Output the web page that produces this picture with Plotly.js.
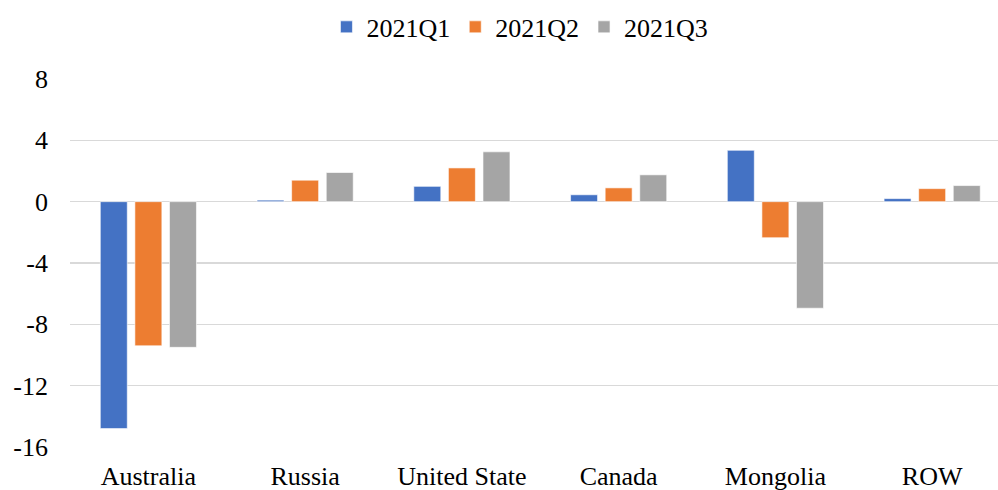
<!DOCTYPE html>
<html>
<head>
<meta charset="utf-8">
<script src="https://cdn.plot.ly/plotly-3.0.1.min.js"></script>
<style>html,body{margin:0;padding:0;background:#fff;}#chart{width:998px;height:490px;}</style>
</head>
<body>
<div id="chart"></div>
<script>
const categories = ["Australia", "Russia", "United State", "Canada", "Mongolia", "ROW"];
const seriesNames = ["2021Q1", "2021Q2", "2021Q3"];
const q1 = [-14.8, 0.1, 1.0, 0.45, 3.35, 0.2];
const q2 = [-9.4, 1.4, 2.2, 0.9, -2.35, 0.85];
const q3 = [-9.5, 1.9, 3.25, 1.75, -6.95, 1.05];
const colors = ["#4472C4", "#ED7D31", "#A5A5A5"];
const yTicks = [-16, -12, -8, -4, 0, 4, 8];

const values = [q1, q2, q3];
const traces = values.map((v, i) => ({
  type: "bar",
  name: seriesNames[i],
  x: categories,
  y: v,
  marker: { color: colors[i], line: { color: "rgba(255,255,255,0.6)", width: 1 } },
  hoverinfo: "x+y+name"
}));

const font = { family: "Liberation Serif, Times New Roman, serif", size: 26, color: "#000" };

const layout = {
  width: 998,
  height: 490,
  margin: { l: 70, r: 0, t: 79, b: 43 },
  paper_bgcolor: "#fff",
  plot_bgcolor: "#fff",
  font: font,
  barmode: "group",
  bargap: 0.338,
  bargroupgap: 0.22,
  showlegend: true,
  legend: {
    orientation: "h",
    xref: "container", x: 0.521, xanchor: "center",
    yref: "container", y: 0.945, yanchor: "middle",
    font: font,
    itemwidth: 30,
    traceorder: "normal"
  },
  xaxis: {
    type: "category",
    range: [-0.5, 5.42],
    showgrid: false,
    zeroline: false,
    showline: false,
    ticks: "",
    tickfont: font,
    ticklabelstandoff: 11,
    fixedrange: true
  },
  yaxis: {
    range: [-16, 8],
    tickvals: yTicks,
    ticktext: yTicks.map(String),
    showgrid: true,
    gridcolor: "#D9D9D9",
    gridwidth: 1.5,
    zeroline: true,
    zerolinecolor: "#D9D9D9",
    zerolinewidth: 1.5,
    showline: false,
    ticks: "",
    tickfont: font,
    ticklabelstandoff: 21,
    fixedrange: true
  }
};

Plotly.newPlot("chart", traces, layout, { displayModeBar: false, staticPlot: true });
</script>
</body>
</html>
